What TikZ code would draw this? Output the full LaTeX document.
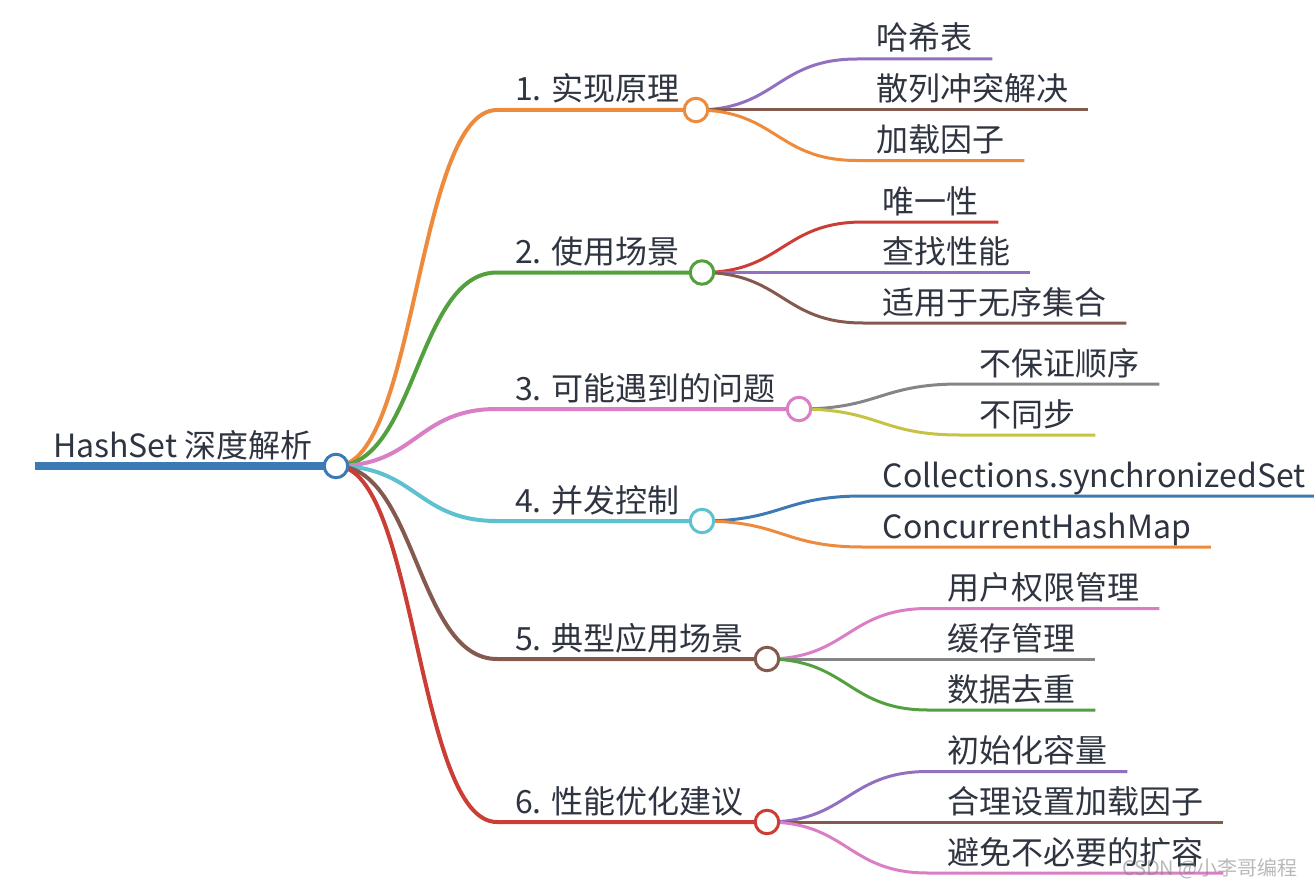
\documentclass[tikz,border=0pt]{standalone}
\usepackage{fontspec}
\setmainfont{Noto Sans CJK SC}
\usepackage{tikz}
\usetikzlibrary{calc,backgrounds}
\definecolor{cInk}{HTML}{2F3441}
\definecolor{cBlue}{HTML}{3D79B4}
\definecolor{cOrange}{HTML}{EE8A3C}
\definecolor{cGreen}{HTML}{52A03E}
\definecolor{cRed}{HTML}{CB3D35}
\definecolor{cPurple}{HTML}{9170C0}
\definecolor{cBrown}{HTML}{845A4E}
\definecolor{cPink}{HTML}{DA7EC6}
\definecolor{cGray}{HTML}{858585}
\definecolor{cOlive}{HTML}{C6C244}
\definecolor{cCyan}{HTML}{5EC1CF}
\tikzset{
  lbl/.style   = {anchor=base west, inner ysep=0pt, text=cInk,
                  font=\fontsize{32}{36}\selectfont},
  topic/.style = {lbl, inner xsep=18pt},
  leaf/.style  = {lbl, inner xsep=19.5pt},
  hub/.style   = {circle, draw=#1, fill=white, line width=3pt,
                  minimum size=23.5pt, inner sep=0pt},
  trunk/.style = {draw=cBlue, line width=8pt},
  limb/.style  = {draw=#1, line width=4pt},
  twig/.style  = {draw=#1, line width=3pt},
  link/.style  = {to path={let \p1=(\tikztostart), \p2=(\tikztotarget) in
                  .. controls ({(\x1+\x2)/2},\y1) and ({(\x1+\x2)/2},\y2)
                  .. (\tikztotarget)}},
  wmark/.style = {text=gray, opacity=0.55, inner sep=0pt,
                  font=\fontsize{20}{24}\selectfont},
}

\begin{document}
\begin{tikzpicture}[x=1pt, y=-1pt]
  \useasboundingbox (0,0) rectangle (1314,888);
  % ---- root ----
  \node[topic] (rt) at (35,457) {HashSet 深度解析};
  \node[hub=cBlue] (root) at (336,466) {};
  % ---- first level ----
  \node[topic] (t1) at (497,101) {1. 实现原理};
  \node[hub=cOrange] (b1) at (696,110) {};
  \node[topic] (t2) at (497,263.5) {2. 使用场景};
  \node[hub=cGreen] (b2) at (702,272.5) {};
  \node[topic] (t3) at (497,400) {3. 可能遇到的问题};
  \node[hub=cPink] (b3) at (799,409) {};
  \node[topic] (t4) at (497,512) {4. 并发控制};
  \node[hub=cCyan] (b4) at (702,521) {};
  \node[topic] (t5) at (497,650) {5. 典型应用场景};
  \node[hub=cBrown] (b5) at (767,659) {};
  \node[topic] (t6) at (497,813) {6. 性能优化建议};
  \node[hub=cRed] (b6) at (767,822) {};
  % ---- leaves ----
  \node[leaf] (l11) at (857,50) {哈希表};
  \node[leaf] (l12) at (857,101) {散列冲突解决};
  \node[leaf] (l13) at (857,151.5) {加载因子};
  \node[leaf] (l21) at (863,213) {唯一性};
  \node[leaf] (l22) at (863,263.5) {查找性能};
  \node[leaf] (l23) at (863,314) {适用于无序集合};
  \node[leaf] (l31) at (960,375) {不保证顺序};
  \node[leaf] (l32) at (960,426) {不同步};
  \node[leaf] (l41) at (863,487) {Collections.synchronizedSet};
  \node[leaf] (l42) at (863,538) {ConcurrentHashMap};
  \node[leaf] (l51) at (928,599.5) {用户权限管理};
  \node[leaf] (l52) at (928,650) {缓存管理};
  \node[leaf] (l53) at (928,701) {数据去重};
  \node[leaf] (l61) at (928,762.5) {初始化容量};
  \node[leaf] (l62) at (928,813) {合理设置加载因子};
  \node[leaf] (l63) at (928,864) {避免不必要的扩容};
  \node[wmark, anchor=base east] (wm) at (1298,875) {CSDN @小李哥编程};
  \begin{scope}[on background layer]
    \draw[trunk] ([yshift=-9pt]rt.base west) -- (root.center);
    \draw[limb=cOrange] (root.center) to[link] ([yshift=-9pt]t1.base west) -- (b1.center);
    \draw[limb=cGreen] (root.center) to[link] ([yshift=-9pt]t2.base west) -- (b2.center);
    \draw[limb=cPink] (root.center) to[link] ([yshift=-9pt]t3.base west) -- (b3.center);
    \draw[limb=cCyan] (root.center) to[link] ([yshift=-9pt]t4.base west) -- (b4.center);
    \draw[limb=cBrown] (root.center) to[link] ([yshift=-9pt]t5.base west) -- (b5.center);
    \draw[limb=cRed] (root.center) to[link] ([yshift=-9pt]t6.base west) -- (b6.center);
    % implementation
    \draw[twig=cPurple] (b1.center) to[link] ([yshift=-9pt]l11.base west) -- ([yshift=-9pt]l11.base east);
    \draw[twig=cBrown] (b1.center) to[link] ([yshift=-9pt]l12.base west) -- ([yshift=-9pt]l12.base east);
    \draw[twig=cOrange] (b1.center) to[link] ([yshift=-9pt]l13.base west) -- ([yshift=-9pt]l13.base east);
    % usage
    \draw[twig=cRed] (b2.center) to[link] ([yshift=-9pt]l21.base west) -- ([yshift=-9pt]l21.base east);
    \draw[twig=cPurple] (b2.center) to[link] ([yshift=-9pt]l22.base west) -- ([yshift=-9pt]l22.base east);
    \draw[twig=cBrown] (b2.center) to[link] ([yshift=-9pt]l23.base west) -- ([yshift=-9pt]l23.base east);
    % problems
    \draw[twig=cGray] (b3.center) to[link] ([yshift=-9pt]l31.base west) -- ([yshift=-9pt]l31.base east);
    \draw[twig=cOlive] (b3.center) to[link] ([yshift=-9pt]l32.base west) -- ([yshift=-9pt]l32.base east);
    % concurrency
    \draw[twig=cBlue] (b4.center) to[link] ([yshift=-9pt]l41.base west) -- ([yshift=-9pt]l41.base east);
    \draw[twig=cOrange] (b4.center) to[link] ([yshift=-9pt]l42.base west) -- ([yshift=-9pt]l42.base east);
    % applications
    \draw[twig=cPink] (b5.center) to[link] ([yshift=-9pt]l51.base west) -- ([yshift=-9pt]l51.base east);
    \draw[twig=cGray] (b5.center) to[link] ([yshift=-9pt]l52.base west) -- ([yshift=-9pt]l52.base east);
    \draw[twig=cGreen] (b5.center) to[link] ([yshift=-9pt]l53.base west) -- ([yshift=-9pt]l53.base east);
    % tuning
    \draw[twig=cPurple] (b6.center) to[link] ([yshift=-9pt]l61.base west) -- ([yshift=-9pt]l61.base east);
    \draw[twig=cBrown] (b6.center) to[link] ([yshift=-9pt]l62.base west) -- ([yshift=-9pt]l62.base east);
    \draw[twig=cPink] (b6.center) to[link] ([yshift=-9pt]l63.base west) -- ([yshift=-9pt]l63.base east);
  \end{scope}
\end{tikzpicture}
\end{document}
